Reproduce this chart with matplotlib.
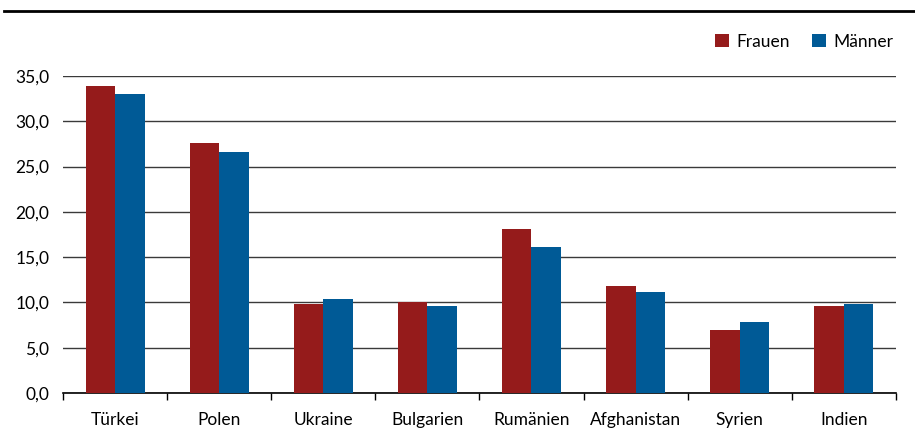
import numpy as np
import matplotlib.pyplot as plt
from matplotlib.lines import Line2D
from matplotlib.ticker import FuncFormatter

laender = ["Türkei", "Polen", "Ukraine", "Bulgarien", "Rumänien", "Afghanistan", "Syrien", "Indien"]
frauen = [33.9, 27.6, 9.8, 10.1, 18.1, 11.8, 7.0, 9.6]
maenner = [33.0, 26.6, 10.4, 9.6, 16.1, 11.2, 7.8, 9.8]

plt.rcParams['font.family'] = ['Lato', 'DejaVu Sans']

fig = plt.figure(figsize=(9.15, 4.3), dpi=100)
ax = fig.add_axes([0.0689, 0.086, 0.9101, 0.7373])

x = np.arange(len(laender))
w = 0.283
ax.bar(x - w / 2, frauen, w, color="#951b1b", label="Frauen", zorder=3)
ax.bar(x + w / 2, maenner, w, color="#005a96", label="Männer", zorder=3)

ax.set_xlim(-0.5, len(laender) - 0.5)
ax.set_ylim(0, 35)
ax.set_yticks(np.arange(0, 36, 5))
ax.yaxis.set_major_formatter(FuncFormatter(lambda v, p: f"{v:.1f}".replace(".", ",")))
ax.yaxis.grid(True, color="#3a3a3a", linewidth=1.0, zorder=0)
ax.tick_params(axis="y", length=0, labelsize=12.5, pad=10)

ax.set_xticks(x)
ax.set_xticklabels(laender, fontsize=12.5)
ax.set_xticks(np.arange(-0.5, len(laender)), minor=True)
ax.tick_params(axis="x", which="major", length=0, pad=14)
ax.tick_params(axis="x", which="minor", length=5, width=1, color="black")

for s in ["left", "right", "top"]:
    ax.spines[s].set_visible(False)
ax.spines["bottom"].set_color("black")
ax.spines["bottom"].set_linewidth(1.2)

fig.legend(loc="upper right", bbox_to_anchor=(0.993, 0.958), ncol=2, frameon=False,
           fontsize=12.5, handlelength=0.8, handleheight=0.8, handletextpad=0.4,
           columnspacing=1.3)

fig.add_artist(Line2D([0.004, 1.0], [1 - 11 / 430, 1 - 11 / 430], color="black", linewidth=2,
                      transform=fig.transFigure))

fig.savefig("out.png", dpi=100)
